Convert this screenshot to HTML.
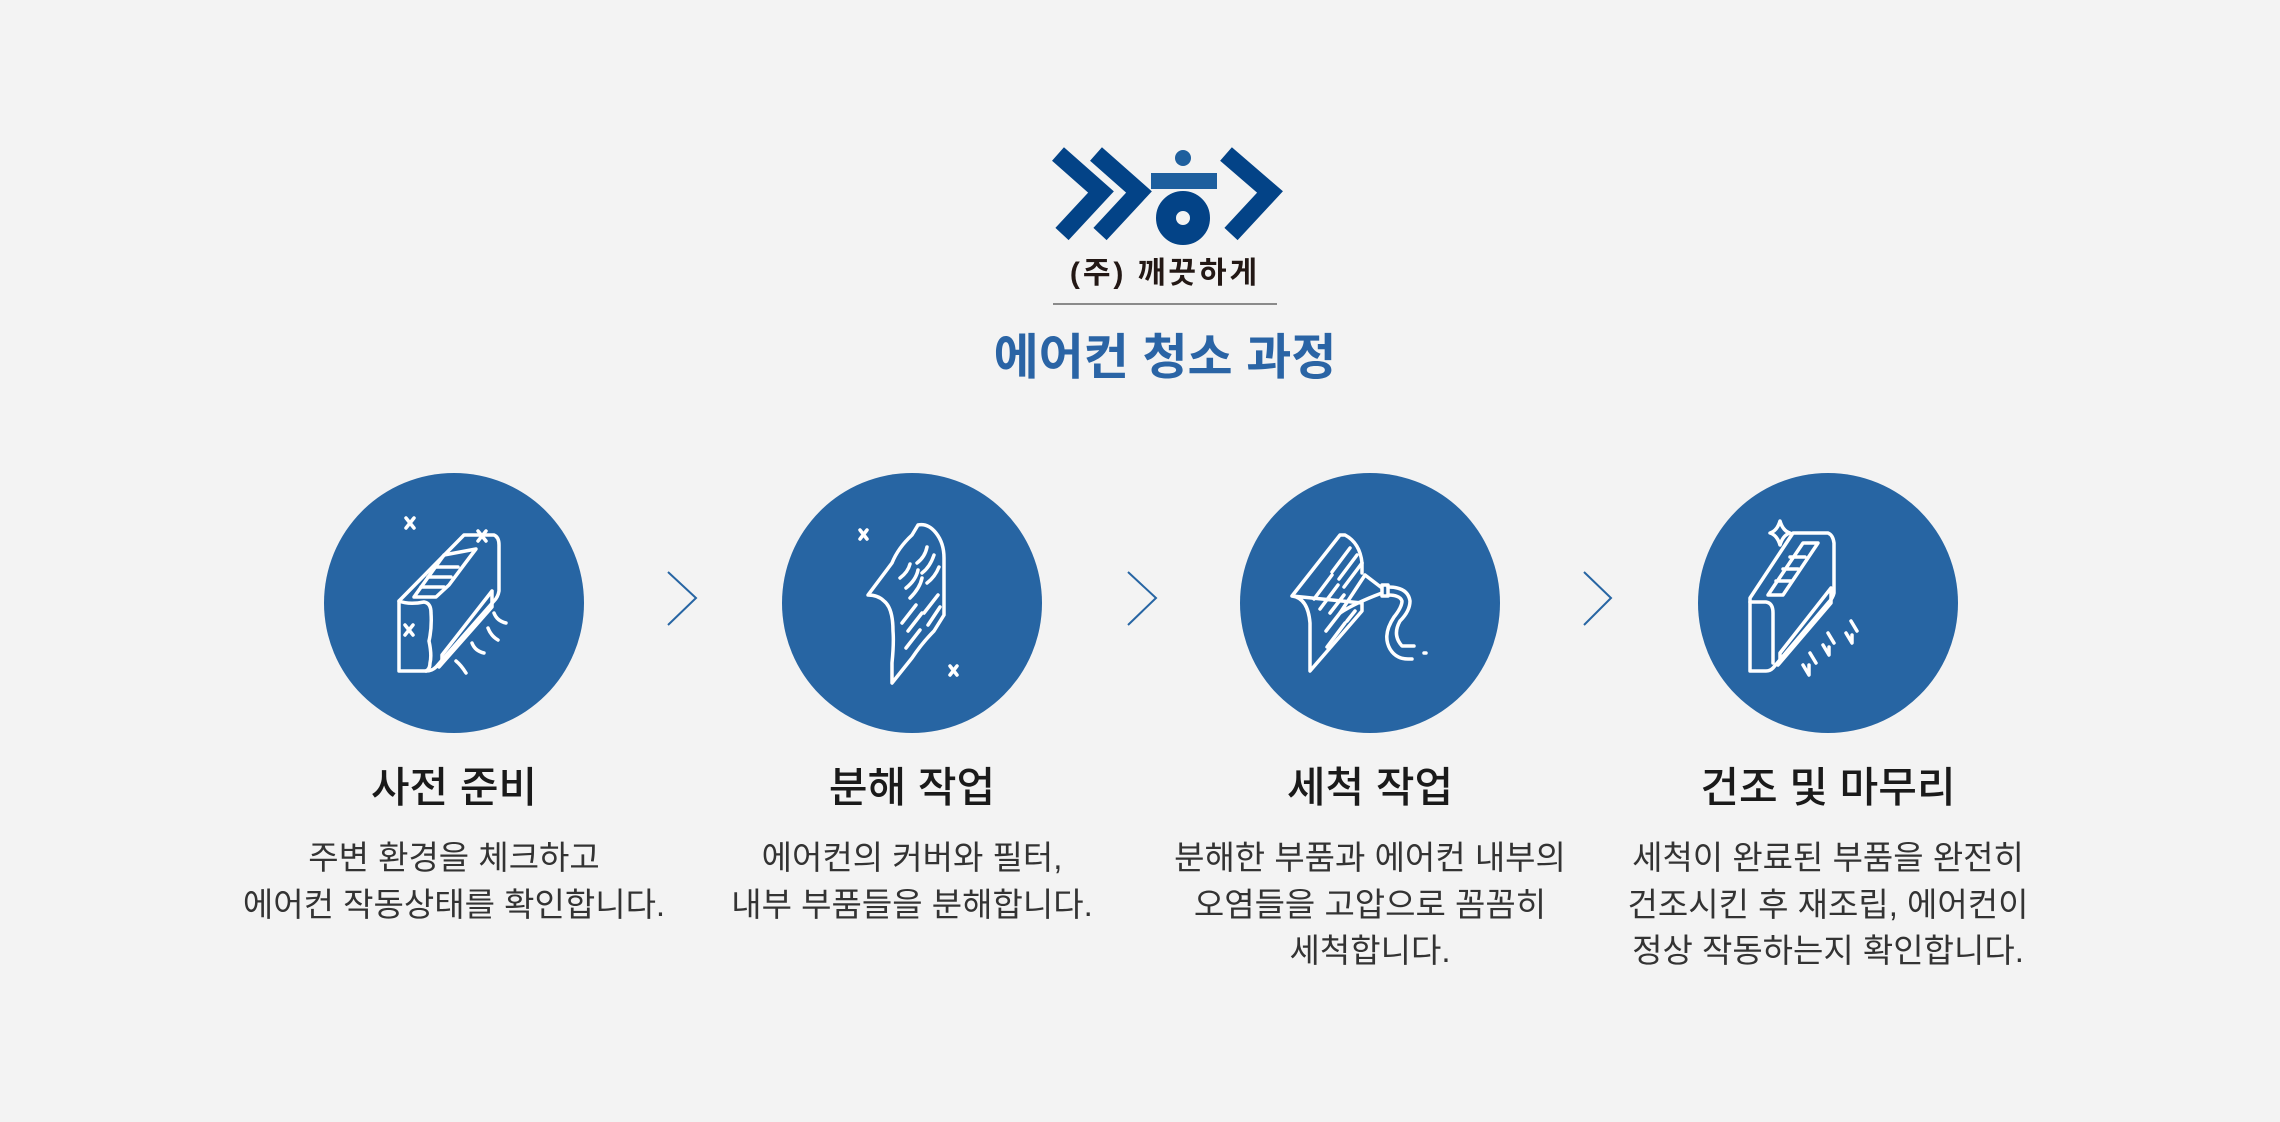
<!DOCTYPE html>
<html><head><meta charset="utf-8"><style>
html,body{margin:0;padding:0;background:#f3f3f3;}
body{width:2280px;height:1122px;overflow:hidden;position:relative;font-family:"Liberation Sans","Noto Sans CJK KR",sans-serif;}
.t{position:absolute;text-align:center;width:600px;}
.title{font-size:42px;color:#1a1a1a;top:754px;font-weight:500;}
.desc{font-size:33px;color:#333;top:835px;line-height:46.5px;}
</style></head><body>
<svg width="2280" height="1122" style="position:absolute;left:0;top:0">
<g fill="none" stroke="#034387" stroke-width="18" stroke-linejoin="miter">
<polyline points="1058,154 1101,192 1062,234"/>
<polyline points="1096,154 1139,192 1100,234"/>
<polyline points="1226,154 1270,192 1231,234"/>
</g>
<circle cx="1183" cy="158" r="8" fill="#1e5f9e"/>
<rect x="1151" y="173" width="66" height="16" fill="#1e5f9e"/>
<circle cx="1183" cy="218" r="17" fill="none" stroke="#034387" stroke-width="20"/>
<line x1="1053" y1="304" x2="1277" y2="304" stroke="#8a8a8a" stroke-width="2"/>
<g fill="#2765a3">
<circle cx="454" cy="603" r="130"/><circle cx="912" cy="603" r="130"/>
<circle cx="1370" cy="603" r="130"/><circle cx="1828" cy="603" r="130"/>
</g>
<g fill="none" stroke="#2765a3" stroke-width="2">
<polyline points="668,572 696,598 668,625"/>
<polyline points="1128,572 1156,598 1128,625"/>
<polyline points="1584,572 1611,598 1584,625"/>
</g>
<g fill="none" stroke="#fff" stroke-width="3.5" stroke-linejoin="round" stroke-linecap="round">
<g transform="translate(454,603)">
<path d="M-55,-2 L10,-68 L40,-68 Q45,-66 45,-58 L45,-12 Q44,-6 40,-2 L-18,64 Q-22,68 -28,68 L-55,68 Z"/>
<path d="M-55,-2 Q-45,2 -30,-1 Q-23,0 -23,10 Q-22,25 -25,38 Q-22,52 -24,60 Q-24,66 -28,68"/>
<path d="M-40,-6 L-10,-48 L22,-54 Q15,-45 -5,-18 L-18,-6 Z"/>
<path d="M-33,-16 L-10,-16 M-26,-26 L-3,-26 M-19,-36 L4,-36"/>
<path d="M38,-12 L-12,52 L-12,60 M38,-12 L38,4 L-15,64"/>
<path d="M-48,-85 l8,10 m0,-10 l-8,10 M24,-72 l8,10 m0,-10 l-8,10 M-49,22 l8,10 m0,-10 l-8,10"/>
<path d="M40,10 q3,8 12,10 M34,25 q3,8 10,12 M18,40 q3,8 12,10 M2,58 q5,4 10,12"/>
</g>
<g transform="translate(912,603)">
<path d="M-44,-8 L-20,-40 Q-14,-55 0,-68 L6,-78 Q16,-80 24,-70 Q32,-60 32,-45 L32,12 L22,28 Q10,40 0,55 L-20,80 L-20,60 Q-18,40 -19,28 Q-19,5 -28,-2 Q-34,-8 -44,-8 Z"/>
<path d="M-12,-25 q8,-6 10,-14 M-6,-15 q10,-8 12,-18 M-2,-5 q10,-10 12,-20 M5,-40 q8,-6 10,-16 M10,-30 q8,-6 12,-18 M15,-20 q8,-6 12,-16 M-10,20 l14,-18 M-4,28 l14,-18 M-6,45 l14,-18 M12,10 l14,-18 M16,22 l12,-18"/>
<path d="M-52,-73 l7,9 m0,-9 l-7,9 M38,63 l7,9 m0,-9 l-7,9"/>
</g>
<g transform="translate(1370,603)">
<path d="M-78,-7 L-30,-68 L-25,-68 Q-10,-60 -8,-40 L-8,-30 M-8,0 L-8,8 L-60,68 L-60,20 Q-62,-5 -78,-7 Z"/>
<path d="M-20,-55 l-18,24 M-13,-48 l-18,24 M-8,-40 l-18,24 M-38,-28 l-18,24 M-32,-18 l-18,24 M-26,-8 l-14,18 M-30,10 l-14,18 M-25,20 l-18,24 M-15,8 l-8,10"/>
<path d="M-30,10 L-5,-28 L12,-15 L12,-10 Q-15,0 -30,10 Z M12,-18 L18,-18 L18,-7 L12,-7 Z"/>
<path d="M18,-16 q20,0 22,14 q0,10 -10,20 q-8,14 2,25 l12,0 M18,-8 q12,0 14,6 q0,6 -8,16 q-12,18 -4,32 q6,10 18,10 l4,0"/>
<path d="M54,50 l2,0"/>
</g>
<g transform="translate(1828,603)">
<path d="M-78,-5 L-35,-70 L0,-70 Q5,-68 6,-60 L6,-10 Q5,-5 0,0 L-55,65 Q-58,68 -62,68 L-78,68 Z"/>
<path d="M-78,-1 L-62,-1 Q-55,0 -55,10 L-55,60"/>
<path d="M-60,-8 L-25,-60 L-10,-60 L-45,-8 Z M-52,-22 L-37,-22 M-45,-34 L-30,-34 M-38,-46 L-23,-46"/>
<path d="M3,-15 L-48,50 L-48,58 M3,-15 L3,0 L-50,62"/>
<path d="M-48,-82 q3,10 10,12 q-7,2 -10,12 q-3,-10 -10,-12 q7,-2 10,-12 Z"/>
<path d="M-25,62 l6,10 l0,-10 M-18,50 l6,10 M-5,42 l6,10 l0,-8 M0,30 l6,10 M18,30 l6,10 l0,-8 M23,18 l6,10"/>
</g>
</g>
</svg>
<div class="t" style="left:865px;top:248px;font-size:30px;font-weight:bold;color:#231815;letter-spacing:3px;">(주) 깨끗하게</div>
<div class="t" style="left:865px;top:318px;font-size:49px;font-weight:bold;color:#2a64a5;">에어컨 청소 과정</div>
<div class="t title" style="left:154px">사전 준비</div>
<div class="t title" style="left:612px">분해 작업</div>
<div class="t title" style="left:1070px">세척 작업</div>
<div class="t title" style="left:1528px">건조 및 마무리</div>
<div class="t desc" style="left:154px">주변 환경을 체크하고<br>에어컨 작동상태를 확인합니다.</div>
<div class="t desc" style="left:612px">에어컨의 커버와 필터,<br>내부 부품들을 분해합니다.</div>
<div class="t desc" style="left:1070px">분해한 부품과 에어컨 내부의<br>오염들을 고압으로 꼼꼼히<br>세척합니다.</div>
<div class="t desc" style="left:1528px">세척이 완료된 부품을 완전히<br>건조시킨 후 재조립, 에어컨이<br>정상 작동하는지 확인합니다.</div>
</body></html>
